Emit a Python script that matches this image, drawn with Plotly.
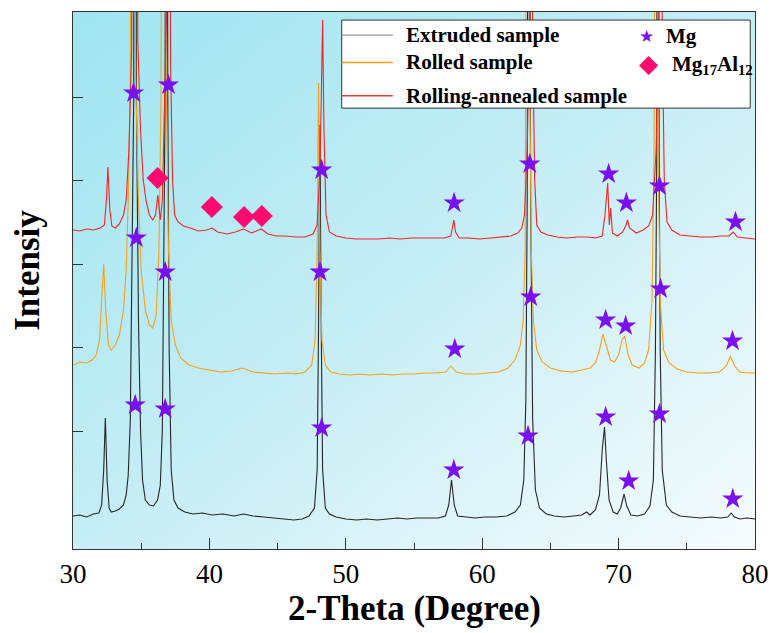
import base64
import plotly.graph_objects as go

# ---------------- data (2-theta in degrees, intensity in arbitrary units, offset stacked) -------------
ext_x = [30.0, 30.5, 31.0, 31.5, 31.9, 32.1, 32.25, 32.37, 32.5, 32.65, 32.8, 33.1, 33.4, 33.7, 33.9,
         34.05, 34.2, 34.3, 34.45, 34.55, 34.65, 34.8, 34.95, 35.1, 35.3, 35.6, 35.9, 36.2, 36.4, 36.55,
         36.65, 36.75, 36.84, 36.95, 37.05, 37.2, 37.4, 37.7, 38.2, 38.8, 39.5, 40.2, 41.0, 41.8, 42.5,
         43.2, 44.0, 44.8, 45.5, 46.2, 46.8, 47.3, 47.7, 47.9, 48.0, 48.1, 48.2, 48.3, 48.5, 48.8, 49.3,
         50.0, 50.8, 51.5, 52.3, 53.0, 53.8, 54.5, 55.2, 56.0, 56.8, 57.3, 57.55, 57.75, 57.95, 58.2,
         58.8, 59.5, 60.2, 61.0, 61.8, 62.4, 62.8, 63.05, 63.2, 63.3, 63.42, 63.55, 63.7, 63.9, 64.2,
         64.7, 65.3, 66.0, 66.7, 67.3, 67.65, 67.9, 68.3, 68.6, 68.8, 68.97, 69.1, 69.3, 69.6, 69.9,
         70.15, 70.4, 70.6, 70.9, 71.4, 71.9, 72.3, 72.55, 72.7, 72.8, 72.88, 72.97, 73.05, 73.2, 73.5,
         73.9, 74.5, 75.2, 76.0, 76.8, 77.5, 78.0, 78.25, 78.5, 78.9, 79.4, 80.0]
ext_y = [33, 34, 32, 35, 36, 44, 79, 131, 69, 41, 37, 38, 40, 44, 54,
         74, 129, 249, 449, 1500, 449, 229, 119, 69, 49, 44, 43, 49, 64, 119,
         249, 449, 1300, 449, 199, 79, 49, 41, 37, 35, 36, 34, 35, 33, 35,
         33, 32, 31, 30, 29, 30, 33, 41, 79, 219, 424, 219, 79, 41, 35, 32,
         30, 29, 30, 29, 30, 31, 30, 31, 31, 31, 33, 44, 69, 44, 33,
         32, 31, 32, 32, 33, 37, 44, 69, 149, 349, 1200, 349, 129, 59, 41,
         35, 33, 32, 33, 34, 37, 34, 39, 54, 99, 122, 89, 49, 37, 35,
         41, 55, 43, 34, 33, 35, 43, 69, 199, 399, 1300, 399, 199, 79, 44,
         37, 33, 32, 31, 32, 31, 32, 36, 32, 30, 31, 30]

rol_x = [30.0, 30.5, 31.0, 31.4, 31.7, 31.95, 32.1, 32.25, 32.4, 32.6, 32.8, 33.1, 33.4, 33.7, 33.9,
         34.05, 34.2, 34.4, 34.6, 34.8, 35.0, 35.3, 35.6, 35.85, 36.1, 36.3, 36.45, 36.65, 36.85, 37.0,
         37.2, 37.5, 37.9, 38.5, 39.2, 40.0, 40.8, 41.6, 42.4, 43.2, 44.0, 44.8, 45.6, 46.4, 47.0,
         47.5, 47.75, 47.9, 48.0, 48.1, 48.25, 48.5, 48.9, 49.5, 50.3, 51.0, 51.8, 52.6, 53.4, 54.2,
         55.0, 55.8, 56.6, 57.3, 57.7, 58.1, 58.8, 59.6, 60.4, 61.2, 61.9, 62.4, 62.8, 63.0, 63.15,
         63.25, 63.35, 63.5, 63.6, 63.75, 64.0, 64.4, 65.0, 65.8, 66.6, 67.3, 67.9, 68.3, 68.6, 68.85,
         69.1, 69.4, 69.7, 70.0, 70.25, 70.45, 70.7, 71.0, 71.5, 71.9, 72.2, 72.45, 72.6, 72.75, 72.9,
         73.05, 73.3, 73.7, 74.3, 75.0, 75.8, 76.6, 77.4, 77.9, 78.2, 78.5, 78.9, 79.5, 80.0]
rol_y = [184, 187, 186, 189, 194, 209, 249, 285, 239, 204, 199, 204, 214, 239, 279,
         349, 469, 1500, 469, 349, 279, 239, 224, 221, 234, 299, 449, 1400, 449, 299,
         229, 204, 191, 184, 181, 179, 177, 178, 181, 177, 176, 175, 176, 175, 177,
         184, 209, 299, 466, 299, 209, 184, 177, 175, 174, 175, 174, 175, 174, 175,
         175, 176, 176, 177, 183, 177, 175, 175, 176, 177, 181, 189, 204, 229, 299,
         449, 1400, 449, 299, 229, 199, 187, 181, 178, 177, 179, 181, 186, 199, 215,
         204, 189, 187, 194, 209, 213, 194, 184, 181, 186, 199, 249, 399, 1400, 399,
         249, 199, 186, 180, 177, 176, 176, 177, 183, 193, 183, 177, 176, 176]

ann_x = [30.0, 30.5, 31.0, 31.5, 32.0, 32.3, 32.45, 32.56, 32.7, 32.85, 33.1, 33.4, 33.7, 33.9, 34.1,
         34.3, 34.5, 34.75, 34.95, 35.15, 35.35, 35.6, 35.85, 36.05, 36.22, 36.4, 36.55, 36.7, 36.85,
         37.0, 37.15, 37.3, 37.45, 37.7, 38.1, 38.6, 39.2, 39.8, 40.2, 40.6, 41.3, 41.9, 42.5, 43.1,
         43.8, 44.3, 44.9, 45.6, 46.3, 47.0, 47.6, 47.9, 48.1, 48.2, 48.3, 48.4, 48.55, 48.8, 49.3,
         50.0, 50.8, 51.6, 52.4, 53.2, 54.0, 54.8, 55.6, 56.4, 57.2, 57.7, 57.85, 57.92, 58.05, 58.3,
         59.0, 59.8, 60.6, 61.4, 62.1, 62.6, 62.9, 63.1, 63.3, 63.45, 63.55, 63.7, 63.85, 64.0, 64.3,
         64.8, 65.5, 66.2, 67.0, 67.7, 68.3, 68.8, 69.0, 69.2, 69.32, 69.42, 69.55, 69.9, 70.3, 70.55,
         70.65, 70.8, 71.3, 71.8, 72.2, 72.5, 72.75, 72.9, 73.02, 73.2, 73.35, 73.55, 73.9, 74.5, 75.2,
         76.0, 76.8, 77.5, 78.1, 78.4, 78.7, 79.3, 80.0]
ann_y = [319, 318, 320, 319, 321, 324, 349, 382, 339, 323, 321, 325, 334, 349, 399,
         499, 1500, 509, 419, 369, 349, 334, 329, 334, 354, 329, 349, 429, 529,
         1500, 489, 369, 334, 327, 323, 321, 318, 319, 321, 317, 315, 317, 320, 316,
         320, 315, 313, 313, 312, 312, 315, 324, 379, 449, 529, 419, 334, 317, 313,
         311, 310, 310, 310, 311, 310, 311, 311, 311, 311, 313, 324, 329, 317, 311,
         311, 310, 311, 312, 313, 316, 321, 334, 399, 509, 1500, 509, 369, 324, 317,
         314, 312, 311, 312, 312, 311, 313, 334, 366, 324, 341, 316, 313, 317, 324,
         329, 321, 316, 319, 323, 334, 399, 519, 1500, 519, 369, 327, 319, 314, 313,
         312, 312, 313, 313, 317, 312, 311, 310]

mg_x = [34.56, 36.76, 48.23, 57.92, 63.36, 69.05, 70.74, 73.0, 78.37,
        34.64, 36.76, 48.11, 57.99, 63.56, 69.05, 70.52, 73.08, 78.35,
        34.44, 37.0, 48.23, 57.94, 63.49, 69.27, 70.57, 73.0, 78.57]
mg_y = [144, 140, 121, 79, 113, 132, 68, 135, 50,
        311, 277, 277, 200, 252, 229, 223, 260, 208,
        456, 464, 379, 346, 385, 375, 346, 363, 327]

al_x = [36.2, 40.18, 42.54, 43.84]
al_y = [371, 342, 332, 333]

series_names = ["Extruded sample", "Rolled sample", "Rolling-annealed sample"]
x_ticks = [30, 40, 50, 60, 70, 80]
y_ticks = [118, 201.5, 285, 368.5, 452]

# ---------------- styles ----------------
SERIF = "Liberation Serif"
line_colors = ["#262626", "#F5A11C", "#F22424"]
legend_line_colors = ["#9a9a9a", "#F5A11C", "#EC3B3B"]
STAR_C = "#7A0FF0"
DIAM_C = "#FF0A6E"

svg = ("<svg xmlns='http://www.w3.org/2000/svg' width='200' height='200' preserveAspectRatio='none'>"
       "<defs><linearGradient id='g' x1='0' y1='0' x2='1' y2='1'>"
       "<stop offset='0' stop-color='#9EE5F1'/>"
       "<stop offset='0.5' stop-color='#C6EDF5'/>"
       "<stop offset='1' stop-color='#F6FCFD'/>"
       "</linearGradient></defs><rect width='200' height='200' fill='url(#g)'/></svg>")
bg_uri = "data:image/svg+xml;base64," + base64.b64encode(svg.encode()).decode()

fig = go.Figure()
for xs, ys, nm, c in zip([ext_x, rol_x, ann_x], [ext_y, rol_y, ann_y], series_names, line_colors):
    fig.add_trace(go.Scatter(x=xs, y=ys, mode="lines", name=nm,
                             line=dict(color=c, width=1.1), showlegend=False, hoverinfo="skip"))

fig.add_trace(go.Scatter(x=mg_x, y=mg_y, mode="markers", name="Mg", showlegend=False,
                         marker=dict(symbol="star", size=16, color=STAR_C, line=dict(width=0))))
fig.add_trace(go.Scatter(x=al_x, y=al_y, mode="markers", name="Mg17Al12", showlegend=False,
                         marker=dict(symbol="diamond", size=17, color=DIAM_C, line=dict(width=0))))

# custom legend box (drawn above the traces)
shapes = [dict(type="rect", xref="paper", yref="paper", x0=0.394, x1=0.993, y0=0.821, y1=0.985,
               fillcolor="white", line=dict(color="#333", width=1), layer="above")]
leg_y = [0.957, 0.906, 0.844]
for yy, c in zip(leg_y, legend_line_colors):
    shapes.append(dict(type="line", xref="paper", yref="paper", x0=0.394, x1=0.469, y0=yy, y1=yy,
                       line=dict(color=c, width=1.3), layer="above"))

annotations = []
for yy, nm in zip(leg_y, series_names):
    annotations.append(dict(xref="paper", yref="paper", x=0.486, y=yy, xanchor="left", yanchor="middle",
                            text="<b>%s</b>" % nm, showarrow=False,
                            font=dict(family=SERIF, size=21, color="black")))
annotations += [
    dict(xref="paper", yref="paper", x=0.8405, y=0.955, xanchor="center", yanchor="middle", text="★",
         showarrow=False, font=dict(family="DejaVu Sans", size=17, color=STAR_C)),
    dict(xref="paper", yref="paper", x=0.866, y=0.956, xanchor="left", yanchor="middle", text="<b>Mg</b>",
         showarrow=False, font=dict(family=SERIF, size=21, color="black")),
    dict(xref="paper", yref="paper", x=0.845, y=0.905, xanchor="center", yanchor="middle", text="◆",
         showarrow=False, font=dict(family="DejaVu Sans", size=25, color=DIAM_C)),
    dict(xref="paper", yref="paper", x=0.876, y=0.902, xanchor="left", yanchor="middle",
         text="<b>Mg<sub>17</sub>Al<sub>12</sub></b>", showarrow=False,
         font=dict(family=SERIF, size=21, color="black")),
    dict(xref="paper", yref="paper", x=0.5, y=-0.11, xanchor="center", yanchor="middle",
         text="<b>2-Theta (Degree)</b>", showarrow=False, font=dict(family=SERIF, size=35, color="black")),
    dict(xref="paper", yref="paper", x=-0.066, y=0.52, xanchor="center", yanchor="middle", textangle=-90,
         text="<b>Intensiy</b>", showarrow=False, font=dict(family=SERIF, size=35, color="black")),
]

fig.update_layout(
    width=774, height=633,
    font=dict(family=SERIF, color="black"),
    margin=dict(l=73, r=19, t=12, b=84, autoexpand=False),
    paper_bgcolor="white", plot_bgcolor="rgba(0,0,0,0)",
    shapes=shapes, annotations=annotations,
    images=[dict(source=bg_uri, xref="paper", yref="paper", x=0, y=1, sizex=1, sizey=1,
                 sizing="stretch", layer="below", xanchor="left", yanchor="top")],
    xaxis=dict(range=[30, 80], tickvals=x_ticks, ticktext=[str(v) for v in x_ticks], automargin=False,
               ticks="inside", ticklen=11, tickcolor="#333", tickwidth=1.2,
               minor=dict(ticks="inside", ticklen=6, dtick=5, tick0=30, tickcolor="#333", tickwidth=1.2),
               showline=True, linecolor="#333", linewidth=1.3, mirror=True, showgrid=False, zeroline=False,
               tickfont=dict(family=SERIF, size=27, color="black")),
    yaxis=dict(range=[0, 537], tickvals=y_ticks, ticks="inside", ticklen=10, tickcolor="#333",
               tickwidth=1.2, showticklabels=False, showline=True, linecolor="#333", linewidth=1.3,
               mirror=True, showgrid=False, zeroline=False, automargin=False),
)

fig.write_html("out.html")
